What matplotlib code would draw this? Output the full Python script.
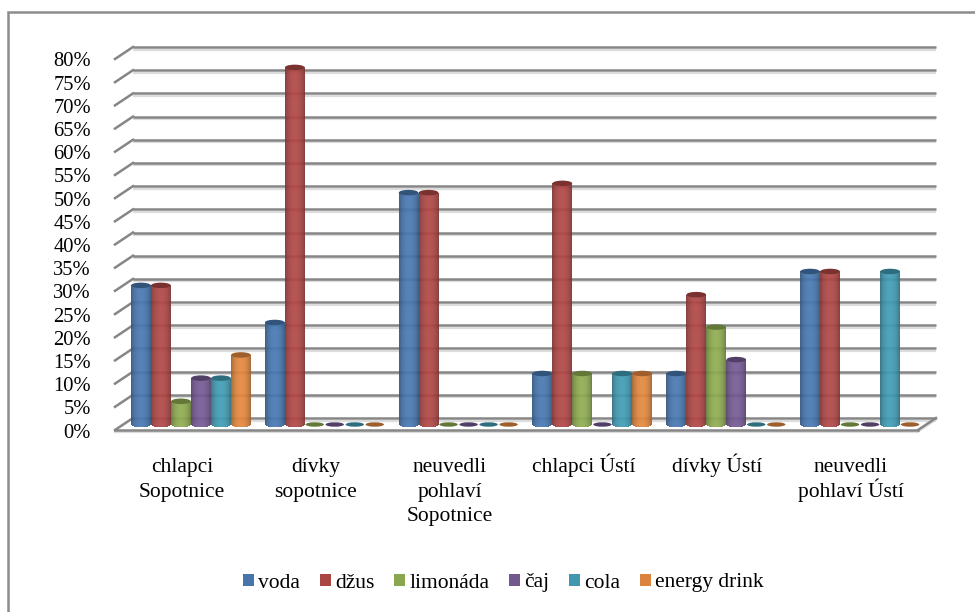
import matplotlib
matplotlib.use("Agg")
import matplotlib.pyplot as plt
import numpy as np
from matplotlib.patches import Ellipse, Patch
from matplotlib.transforms import Affine2D
from matplotlib.lines import Line2D

categories = ["chlapci\nSopotnice", "dívky\nsopotnice", "neuvedli\npohlaví\nSopotnice",
              "chlapci Ústí", "dívky Ústí", "neuvedli\npohlaví Ústí"]
series_names = ["voda", "džus", "limonáda", "čaj", "cola", "energy drink"]
voda = [30, 22, 50, 11, 11, 33]
dzus = [30, 77, 50, 52, 28, 33]
limonada = [5, 0, 0, 11, 21, 0]
caj = [10, 0, 0, 0, 14, 0]
cola = [10, 0, 0, 11, 0, 33]
energy = [15, 0, 0, 11, 0, 0]
series_values = [voda, dzus, limonada, caj, cola, energy]
series_colors = ["#4674ab", "#aa4644", "#8aa64e", "#71588f", "#4097ae", "#db843d"]
y_ticks = list(range(0, 85, 5))

W, H = 975, 612
plt.rcParams["font.family"] = ["Liberation Serif", "DejaVu Serif"]
fig = plt.figure(figsize=(W / 100, H / 100), dpi=100, facecolor="white")


def px_axes(x0, y0, x1, y1):
    return [x0 / W, 1 - y1 / H, (x1 - x0) / W, (y1 - y0) / H]


# Front plane of the 3-D box: floor edge at y=430 px, 80 % at y=59 px
ax = fig.add_axes(px_axes(115, 59, 918, 430))
ax.set_xlim(-0.5, 5.5)
ax.set_ylim(0, 80)
ax.patch.set_visible(False)
for s in ax.spines.values():
    s.set_visible(False)
ax.tick_params(length=0)
ax.set_xticks([])
ax.set_yticks([])

DEPTH_X, DEPTH_Y = 18, 12
back = ax.transData + Affine2D().translate(DEPTH_X, DEPTH_Y)
middle = ax.transData + Affine2D().translate(DEPTH_X / 2, DEPTH_Y / 2 - 0.5)
shadow = ax.transData + Affine2D().translate(DEPTH_X, DEPTH_Y - 2.5)
GRID = "#868686"
LIGHT = "#dcdcdc"

# Wall gridlines and their diagonal returns on the side wall
for v in y_ticks:
    ax.plot([-0.5, 5.5], [v, v], transform=shadow, color=LIGHT, lw=1.6, clip_on=False,
            solid_capstyle="butt", zorder=1)
    ax.plot([-0.5, 5.5], [v, v], transform=back, color=GRID, lw=1.8, clip_on=False,
            solid_capstyle="butt", zorder=1.1)
    x0, y0 = ax.transData.transform((-0.5, v))
    ax.add_line(Line2D([x0, x0 + DEPTH_X], [y0, y0 + DEPTH_Y], transform=None,
                       color=GRID, lw=1.8, zorder=1.1, clip_on=False))

# Floor: front edge and right-hand return
x0, y0 = ax.transData.transform((-0.5, 0))
x1, _ = ax.transData.transform((5.5, 0))
for xs, ys, col, lw, z in [
    ([x0, x1], [y0 - 1.5, y0 - 1.5], LIGHT, 1.6, 1),
    ([x1, x1 + DEPTH_X], [y0 - 1.5, y0 + DEPTH_Y - 1.5], LIGHT, 1.6, 1),
    ([x0, x1], [y0, y0], GRID, 1.8, 1.1),
    ([x1, x1 + DEPTH_X], [y0, y0 + DEPTH_Y], GRID, 1.8, 1.1),
]:
    ax.add_line(Line2D(xs, ys, transform=None, color=col, lw=lw, zorder=z, clip_on=False))


def shade(hex_color, f):
    rgb = np.array(matplotlib.colors.to_rgb(hex_color))
    return tuple(np.clip(rgb * f, 0, 1))


BAR_W = 0.1495
PX_Y = 371 / 80
CAP_H = 5.5 / PX_Y
N = 20
profile = 0.66 + 0.38 * np.sin(np.linspace(0.08, np.pi - 0.08, N)) ** 0.6


def cylinder(xc, value, color, z):
    edges = np.linspace(-1, 1, N + 1)
    mids = (edges[:-1] + edges[1:]) / 2
    if value > 0:
        for t, f in zip(mids, profile):
            curve = np.sqrt(1 - t ** 2) * CAP_H / 2
            ax.bar(xc + t * BAR_W / 2, value + curve, width=BAR_W / N, bottom=-curve,
                   color=shade(color, f), alpha=0.93, linewidth=0, antialiased=False,
                   transform=middle, clip_on=False, zorder=z)
    cap = Ellipse((xc, value), BAR_W * (0.98 if value else 0.92), CAP_H * (1 if value else 0.8),
                  facecolor=shade(color, 0.72), edgecolor="none", transform=middle,
                  clip_on=False, zorder=z + 0.01)
    ax.add_patch(cap)


first_offset = -2.5 * BAR_W
for i, (vals, col) in enumerate(zip(series_values, series_colors)):
    for g, v in enumerate(vals):
        cylinder(g + first_offset + i * BAR_W, v, col, 3 + i * 0.1)

# Value axis labels on the front plane
for v in y_ticks:
    ax.annotate(f"{v}%", xy=(-0.5, v), xytext=(91 - 115, -3), textcoords="offset pixels",
                ha="right", va="center", fontsize=14.8, color="black", annotation_clip=False)

# Category labels, one baseline per line, centred below each group
LINE_PITCH = 24.5
for g, name in enumerate(categories):
    for k, line in enumerate(name.split("\n")):
        ax.annotate(line, xy=(g, 0), xytext=(0, -42 - k * LINE_PITCH), textcoords="offset pixels",
                    ha="center", va="baseline", fontsize=15.5, annotation_clip=False)

handles = [Patch(facecolor=c, edgecolor="none", label=n) for c, n in zip(series_colors, series_names)]
fig.legend(handles=handles, loc="center", bbox_to_anchor=(503.5 / W, 1 - 583 / H), ncol=6,
           frameon=False, fontsize=15.5, handlelength=0.51, handleheight=0.51,
           handletextpad=0.19, columnspacing=0.92, borderpad=0, borderaxespad=0)

# Chart-area frame: top and left edges
fig.add_artist(Line2D([7.5 / W, 7.5 / W, 1], [0, 1 - 11.5 / H, 1 - 11.5 / H],
                      transform=fig.transFigure, color="#8c8c8c", lw=1.8,
                      solid_joinstyle="miter"))

fig.savefig("out.png", dpi=100)
